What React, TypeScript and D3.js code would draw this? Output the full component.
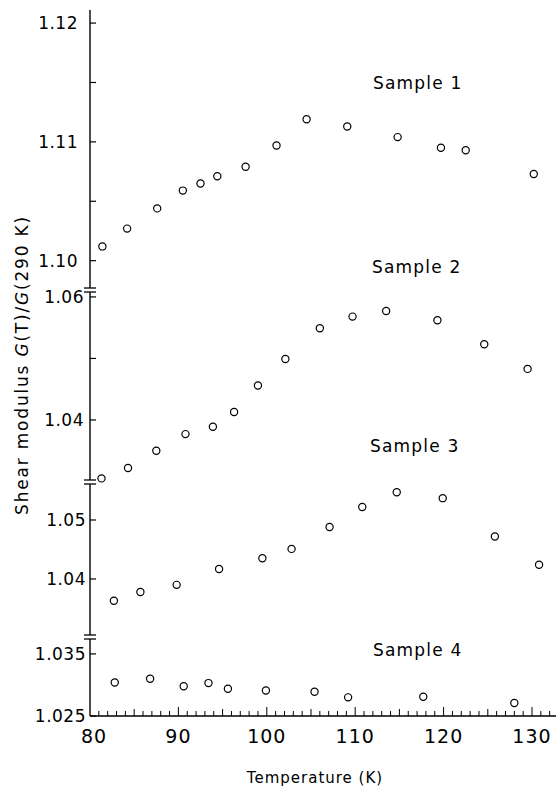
import React, { useEffect } from 'react'
import * as d3 from 'd3'

// temperatures (K) and G(T)/G(290 K)
const sample1T = [81.4, 84.2, 87.6, 90.5, 92.5, 94.4, 97.6, 101.1, 104.5, 109.1, 114.8, 119.7, 122.5, 130.2]
const sample1G = [1.1012, 1.1027, 1.1044, 1.1059, 1.1065, 1.1071, 1.1079, 1.1097, 1.1119, 1.1113, 1.1104, 1.1095, 1.1093, 1.1073]

const sample2T = [81.3, 84.3, 87.5, 90.8, 93.9, 96.3, 99.0, 102.1, 106.0, 109.7, 113.5, 119.3, 124.6, 129.5]
const sample2G = [1.0305, 1.0322, 1.035, 1.0377, 1.0389, 1.0413, 1.0456, 1.0499, 1.0549, 1.0568, 1.0577, 1.0562, 1.0523, 1.0483]

const sample3T = [82.7, 85.7, 89.8, 94.6, 99.5, 102.8, 107.1, 110.8, 114.7, 119.9, 125.8, 130.8]
const sample3G = [1.0363, 1.0378, 1.039, 1.0417, 1.0435, 1.0451, 1.0488, 1.0522, 1.0547, 1.0537, 1.0472, 1.0424]

const sample4T = [82.8, 86.8, 90.6, 93.4, 95.6, 99.9, 105.4, 109.2, 117.7, 128.0]
const sample4G = [1.0304, 1.031, 1.0298, 1.0303, 1.0294, 1.0291, 1.0289, 1.028, 1.0281, 1.0271]

const sampleNames = ['Sample 1', 'Sample 2', 'Sample 3', 'Sample 4']

const xTicks = [80, 90, 100, 110, 120, 130]

// y axis pieces (each panel has its own broken scale)
const p1Domain = [1.0977, 1.1211]
const p1Ticks = [1.1, 1.11, 1.12]
const p1Minor = [1.105, 1.115]
const p1Labels = ['1.10', '1.11', '1.12']

const p2Domain = [1.03024, 1.0608]
const p2Ticks = [1.04, 1.06]
const p2Minor = [1.05]
const p2Labels = ['1.04', '1.06']

const p3Domain = [1.0305, 1.0561]
const p3Ticks = [1.04, 1.05]
const p3Labels = ['1.04', '1.05']

const p4Domain = [1.025, 1.0374]
const p4Ticks = [1.025, 1.035]
const p4Labels = ['1.025', '1.035']

const FONT = '"DejaVu Sans", sans-serif'
const axisX = 90

const panels = [
  { name: sampleNames[0], T: sample1T, G: sample1G, domain: p1Domain, range: [288, 10], ticks: p1Ticks, minor: p1Minor, labels: p1Labels, labelY: 89, labelX: 373, labelEnd: 78 },
  { name: sampleNames[1], T: sample2T, G: sample2G, domain: p2Domain, range: [480, 292], ticks: p2Ticks, minor: p2Minor, labels: p2Labels, labelY: 273, labelX: 372, labelEnd: 84 },
  { name: sampleNames[2], T: sample3T, G: sample3G, domain: p3Domain, range: [635, 484], ticks: p3Ticks, minor: [], labels: p3Labels, labelY: 452, labelX: 370, labelEnd: 86 },
  { name: sampleNames[3], T: sample4T, G: sample4G, domain: p4Domain, range: [716, 639], ticks: p4Ticks, minor: [], labels: p4Labels, labelY: 656, labelX: 373, labelEnd: 86 },
]

export default function App() {
  useEffect(() => {
    document.body.style.margin = '0'
  }, [])

  const x = d3.scaleLinear().domain([80, 130]).range([axisX, 532])
  const xMax = 556
  const minorX = d3.range(81, 133)
  const baseY = 716

  return (
    <svg width={557} height={796} style={{ display: 'block', background: '#fff' }}>
      {panels.map((p, i) => {
        const y = d3.scaleLinear().domain(p.domain).range(p.range)
        const top = p.range[1]
        const bottom = p.range[0]
        return (
          <g key={i}>
            {/* axis segment */}
            <line x1={axisX} x2={axisX} y1={top} y2={bottom} stroke="#000" strokeWidth={1.4} />
            {/* break caps */}
            {i > 0 && <line x1={axisX - 6} x2={axisX + 6} y1={top} y2={top} stroke="#000" strokeWidth={1.3} />}
            {i < panels.length - 1 && <line x1={axisX - 6} x2={axisX + 6} y1={bottom} y2={bottom} stroke="#000" strokeWidth={1.3} />}
            {p.ticks.map((t, j) => (
              <g key={'t' + j}>
                <line x1={axisX} x2={axisX + 6} y1={y(t)} y2={y(t)} stroke="#000" strokeWidth={1.2} />
                <text x={p.labelEnd} y={y(t) + 6} textAnchor="end" fontFamily={FONT} fontSize={17} letterSpacing={0.5}>
                  {p.labels[j]}
                </text>
              </g>
            ))}
            {p.minor.map((t, j) => (
              <line key={'m' + j} x1={axisX} x2={axisX + 6} y1={y(t)} y2={y(t)} stroke="#000" strokeWidth={1.2} />
            ))}
            {p.T.map((t, j) => (
              <circle key={'c' + j} cx={x(t)} cy={y(p.G[j])} r={3.6} fill="none" stroke="#000" strokeWidth={1.2} />
            ))}
            <text x={p.labelX} y={p.labelY} fontFamily={FONT} fontSize={17} letterSpacing={1.2}>
              {p.name}
            </text>
          </g>
        )
      })}

      {/* x axis */}
      <line x1={axisX} x2={xMax} y1={baseY} y2={baseY} stroke="#000" strokeWidth={1.4} />
      {minorX.map((t) => {
        const len = t % 10 === 0 ? 9 : t % 5 === 0 ? 7 : 5
        return <line key={t} x1={x(t)} x2={x(t)} y1={baseY} y2={baseY - len} stroke="#000" strokeWidth={1} />
      })}
      {xTicks.map((t) => (
        <text key={t} x={x(t) + (t === 80 ? 4 : 0)} y={743} textAnchor="middle" fontFamily={FONT} fontSize={19} letterSpacing={1}>
          {t}
        </text>
      ))}
      <text x={315} y={783} textAnchor="middle" fontFamily={FONT} fontSize={15} letterSpacing={1}>
        Temperature (K)
      </text>
      <text
        transform="translate(28,365) rotate(-90)"
        textAnchor="middle"
        fontFamily={FONT}
        fontSize={17}
        letterSpacing={1.8}
      >
        Shear modulus <tspan fontStyle="italic">G</tspan>(T)/<tspan fontStyle="italic">G</tspan>(290 K)
      </text>
    </svg>
  )
}
